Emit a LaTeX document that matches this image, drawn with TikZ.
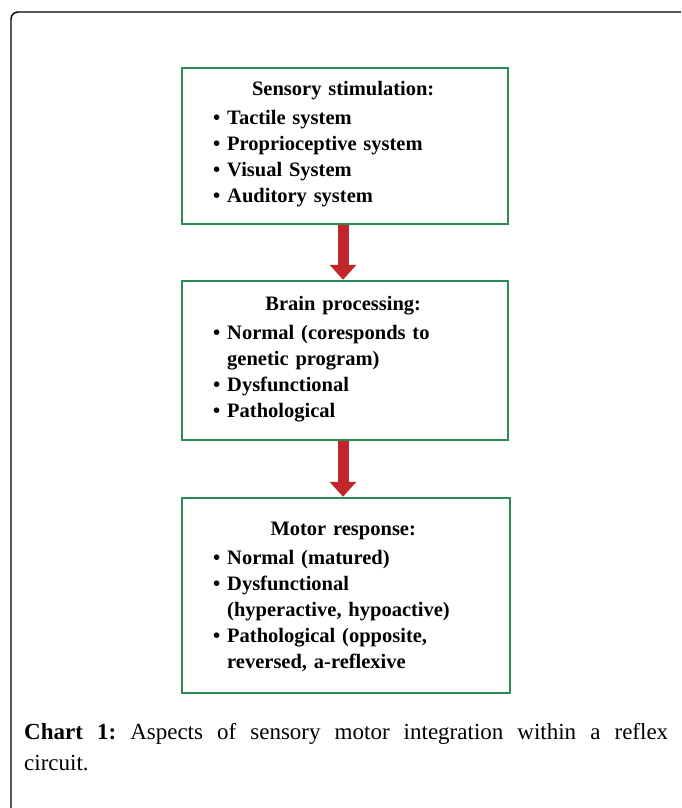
\documentclass[tikz,border=0pt]{standalone}
\usepackage{fontspec}
\setmainfont{Liberation Serif}
\usetikzlibrary{arrows.meta}
\definecolor{boxgreen}{RGB}{42,138,82}
\definecolor{arrred}{RGB}{192,38,42}
\newlength\bulw
\newcommand\bitem[1]{\par\hangindent=\bulw\hangafter=1\noindent\textbullet\ #1}
\newcommand\btitle[1]{{\centering #1\par}\vskip3pt\settowidth\bulw{\textbullet\ }}
\begin{document}
\begin{tikzpicture}[x=1pt,y=-1pt,
  stagebox/.style={draw=boxgreen, line width=2.5pt, rectangle, inner sep=0pt},
  stagetext/.style={anchor=west, text width=260pt, inner sep=0pt,
    font=\fontsize{20.5}{26}\selectfont\bfseries, align=left},
  flow/.style={draw=arrred, line width=11pt, -{Triangle[width=26pt,length=15pt]}},
  frame/.style={draw=black, line width=1.4pt, rounded corners=7pt}]
\useasboundingbox (0,0) rectangle (681,808);
\draw[frame] (11,808) -- (11,12) -- (681,12);

\node[stagebox, minimum width=326pt, minimum height=156pt] (s1) at (345,146) {};
\node[stagebox, minimum width=326pt, minimum height=159pt] (s2) at (345,360.5) {};
\node[stagebox, minimum width=328pt, minimum height=195pt] (s3) at (346,595.5) {};

\node[stagetext] (t1) at (213,144) {\btitle{Sensory stimulation:}%
  \bitem{Tactile system}\bitem{Proprioceptive system}\bitem{Visual System}\bitem{Auditory system}\par};
\node[stagetext] (t2) at (213,359) {\btitle{Brain processing:}%
  \bitem{Normal (coresponds to\break genetic program)}\bitem{Dysfunctional}\bitem{Pathological}\par};
\node[stagetext] (t3) at (213,597) {\btitle{Motor response:}%
  \bitem{Normal (matured)}\bitem{Dysfunctional\break (hyperactive, hypoactive)}\bitem{Pathological (opposite,\break reversed, a-reflexive}\par};

\draw[flow] ([xshift=-2pt]s1.south) -- ([xshift=-2pt]s2.north);
\draw[flow] ([xshift=-2pt]s2.south) -- ([xshift=-3pt]s3.north);

\node[anchor=north west, text width=644pt, inner sep=0pt, align=justify,
  font=\fontsize{23}{31}\selectfont\frenchspacing] (cap) at (24,723)
  {\textbf{Chart 1:} Aspects of sensory motor integration within a reflex\linebreak circuit.};
\end{tikzpicture}
\end{document}
